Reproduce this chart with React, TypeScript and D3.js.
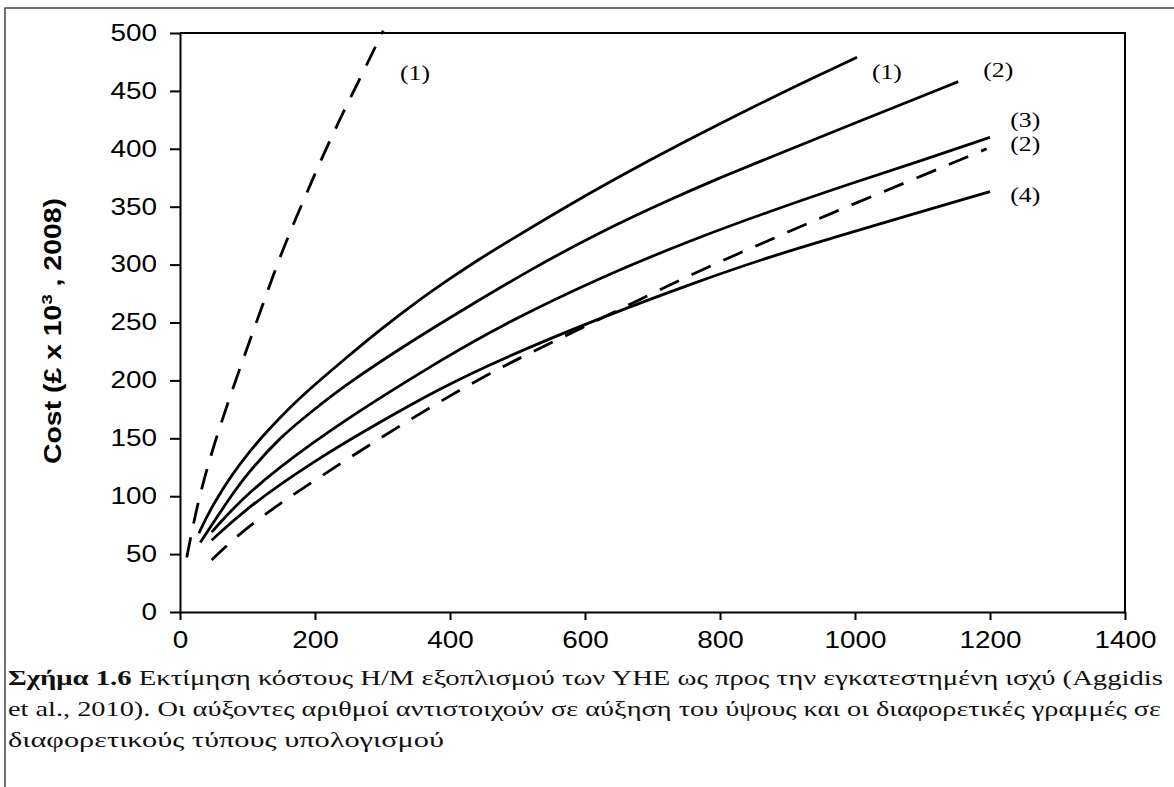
import React, { useEffect, useRef } from 'react';
import * as d3 from 'd3';

// values: installed power (x) vs cost (£ x 10^3, 2008)
const dashed1: [number, number][] = [
  [10, 47], [25, 92], [49, 143], [84, 203], [123, 266], [145, 302], [165, 331],
  [188, 362], [207, 388], [237, 426], [267, 461], [301, 502],
];
const dashed2: [number, number][] = [
  [47, 45], [99, 74], [197, 113], [296, 150], [385, 182], [474, 211], [548, 232],
  [671, 267], [770, 295], [869, 320], [967, 345], [1080, 372], [1195, 400],
];
const solid1: [number, number][] = [
  [28, 68], [49, 94], [99, 138], [168, 180], [197, 195], [247, 220], [299, 245],
  [346, 266], [400, 288], [444, 305], [489, 321], [563, 347], [641, 373], [750, 407],
  [859, 439], [933, 460], [1003, 479],
];
const solid2: [number, number][] = [
  [30, 60], [74, 99], [99, 119], [148, 151], [197, 174], [247, 197], [346, 235],
  [425, 263], [523, 297], [622, 328], [721, 355], [800, 375], [859, 389], [1007, 424],
  [1153, 458],
];
const solid3: [number, number][] = [
  [47, 69], [99, 103], [197, 147], [296, 185], [385, 217], [474, 247], [622, 289],
  [770, 324], [869, 345], [993, 370], [1100, 390], [1200, 410],
];
const solid4: [number, number][] = [
  [47, 62], [99, 90], [197, 130], [296, 164], [385, 193], [474, 218], [622, 254],
  [770, 286], [869, 306], [1007, 330], [1100, 346], [1200, 363],
];

const xTicks = [0, 200, 400, 600, 800, 1000, 1200, 1400];
const yTicks = [0, 50, 100, 150, 200, 250, 300, 350, 400, 450, 500];

// curve labels, placed in data units
const labelText = ['(1)', '(1)', '(2)', '(3)', '(2)', '(4)'];
const labelX = [326, 1025, 1190, 1230, 1230, 1230];
const labelY = [459, 460, 462, 419, 398, 354];

const captionBold = 'Σχήμα 1.6';
const captionLines = [
  ' Εκτίμηση κόστους Η/Μ εξοπλισμού των ΥΗΕ ως προς την εγκατεστημένη ισχύ (Aggidis',
  'et al., 2010). Οι αύξοντες αριθμοί αντιστοιχούν σε αύξηση του ύψους και οι διαφορετικές γραμμές σε',
  'διαφορετικούς τύπους υπολογισμού',
];

const App = () => {
  const ref = useRef<SVGSVGElement | null>(null);

  useEffect(() => {
    const width = 1174;
    const height = 787;
    const svg = d3.select(ref.current);
    svg.selectAll('*').remove();

    // outer frame (right/bottom edges fall outside the picture)
    svg.append('path')
      .attr('d', `M5,${height + 5}V8H${width + 5}`)
      .attr('fill', 'none')
      .attr('stroke', '#444')
      .attr('stroke-width', 1.5);

    const x = d3.scaleLinear().domain([0, 1400]).range([180, 1125]);
    const y = d3.scaleLinear().domain([0, 500]).range([612, 33]);

    // plot box top + right
    svg.append('path')
      .attr('d', `M${x(0)},${y(500)}H${x(1400)}V${y(0)}`)
      .attr('fill', 'none')
      .attr('stroke', '#000')
      .attr('stroke-width', 2);

    const yAxis = svg.append('g')
      .attr('transform', `translate(${x(0)},0)`)
      .call(d3.axisLeft(y).tickValues(yTicks).tickSize(10).tickSizeOuter(0).tickPadding(13));
    const xAxis = svg.append('g')
      .attr('transform', `translate(0,${y(0)})`)
      .call(
        d3.axisBottom(x).tickValues(xTicks).tickFormat(d3.format('d'))
          .tickSize(8).tickSizeOuter(0).tickPadding(12)
      );

    [yAxis, xAxis].forEach((g) => {
      g.selectAll('path, line').attr('stroke', '#000').attr('stroke-width', 2);
      g.selectAll('text')
        .attr('fill', '#000')
        .attr('font-family', '"Liberation Sans", Arial, sans-serif')
        .attr('font-size', 23)
        .attr('textLength', (d: any) => String(d).length * 15.5)
        .attr('lengthAdjust', 'spacingAndGlyphs');
    });

    // y-axis title
    const title = svg.append('text')
      .attr('transform', 'translate(61,331) rotate(-90)')
      .attr('text-anchor', 'middle')
      .attr('font-family', '"Liberation Sans", Arial, sans-serif')
      .attr('font-weight', 'bold')
      .attr('font-size', 23)
      .attr('textLength', 266)
      .attr('lengthAdjust', 'spacingAndGlyphs');
    title.append('tspan').text('Cost (£ x 10');
    title.append('tspan').attr('dy', -9).attr('font-size', 15).text('3');
    title.append('tspan').attr('dy', 9).text(' , 2008)');

    const line = d3.line<[number, number]>()
      .x((d) => x(d[0]))
      .y((d) => y(d[1]))
      .curve(d3.curveBasis);

    const series = [
      { data: solid1, dashed: false },
      { data: solid2, dashed: false },
      { data: solid3, dashed: false },
      { data: solid4, dashed: false },
      { data: dashed1, dashed: true },
      { data: dashed2, dashed: true },
    ];
    svg.append('g')
      .selectAll('path')
      .data(series)
      .join('path')
      .attr('d', (s) => line(s.data))
      .attr('fill', 'none')
      .attr('stroke', '#000')
      .attr('stroke-width', 2.8)
      .attr('stroke-dasharray', (s) => (s.dashed ? '21,14' : null));

    svg.append('g')
      .selectAll('text')
      .data(labelText)
      .join('text')
      .attr('x', (_, i) => x(labelX[i]))
      .attr('y', (_, i) => y(labelY[i]))
      .attr('font-family', '"Liberation Serif", "Times New Roman", serif')
      .attr('font-size', 20)
      .attr('textLength', 30)
      .attr('lengthAdjust', 'spacingAndGlyphs')
      .text((d) => d);

    // caption
    const capFont = '"Liberation Serif", "DejaVu Serif", serif';
    const capWidths = [1155, 1153, 436];
    const capY = [685, 716, 747];
    captionLines.forEach((txt, i) => {
      const t = svg.append('text')
        .attr('x', 8)
        .attr('y', capY[i])
        .attr('font-family', capFont)
        .attr('font-size', 21)
        .attr('fill', '#111')
        .attr('textLength', capWidths[i])
        .attr('lengthAdjust', 'spacingAndGlyphs');
      if (i === 0) t.append('tspan').attr('font-weight', 'bold').text(captionBold);
      t.append('tspan').text(txt);
    });

    return () => {
      svg.selectAll('*').remove();
    };
  }, []);

  return (
    <svg
      ref={ref}
      width={1174}
      height={787}
      style={{ position: 'absolute', left: 0, top: 0, background: '#fff' }}
    />
  );
};

export default App;
